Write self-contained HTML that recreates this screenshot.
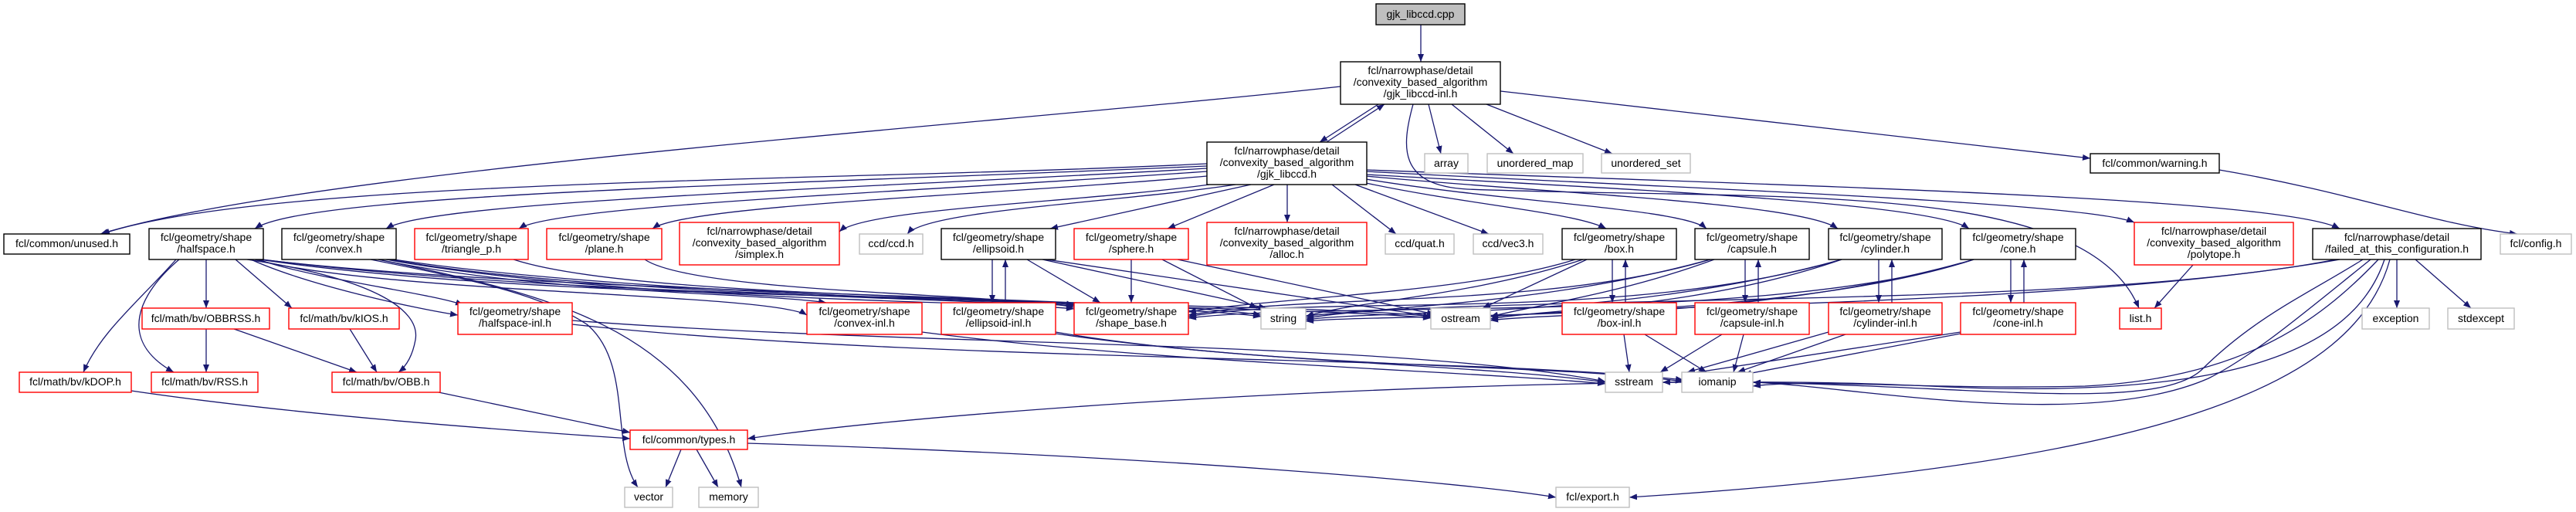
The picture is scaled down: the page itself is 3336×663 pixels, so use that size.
<!DOCTYPE html>
<html><head><meta charset="utf-8"><style>
html,body{margin:0;padding:0;background:#fff;}
svg{display:block;}
text{font-family:"Liberation Sans",sans-serif;font-size:14px;fill:#000;}
.e{fill:none;stroke:#191970;stroke-width:1.3;}
.b{fill:#fff;stroke:#000;stroke-width:1.4;}
.r{fill:#fff;stroke:#ff0000;stroke-width:1.4;}
.g{fill:#fff;stroke:#bfbfbf;stroke-width:1.4;}
</style></head><body>
<svg width="3336" height="663" viewBox="0 0 3336 663" xmlns="http://www.w3.org/2000/svg">
<defs><marker id="a" markerWidth="11" markerHeight="8" refX="10" refY="4" orient="auto" markerUnits="userSpaceOnUse"><path d="M0,0 L10,4 L0,8 z" fill="#191970"/></marker></defs>
<g class="e" marker-end="url(#a)">
<path d="M1840,32 L1840,80"/>
<path d="M1785,135 L1709,184"/>
<path d="M1718,184 L1793,135"/>
<path d="M1850,135 L1866,199"/>
<path d="M1880,135 L1960,199"/>
<path d="M1925,135 L2088,199"/>
<path d="M1943,118 L2707,205"/>
<path d="M1736,112 C1300,160 400,220 130,303"/>
<path d="M1830,135 C1815,190 1810,240 1900,245 C2300,260 2700,230 2770,399"/>
<path d="M1563,212 C1100,235 350,230 132,303"/>
<path d="M1563,215 C1000,240 400,250 330,296"/>
<path d="M1563,218 C1100,245 560,260 500,296"/>
<path d="M1563,222 C1200,248 720,265 672,296"/>
<path d="M1563,228 C1300,252 890,265 845,296"/>
<path d="M1566,239 C1400,262 1120,270 1087,300"/>
<path d="M1600,239 C1450,262 1200,272 1175,303"/>
<path d="M1620,239 L1360,296"/>
<path d="M1650,239 L1512,296"/>
<path d="M1667,239 L1667,288"/>
<path d="M1725,239 L1808,303"/>
<path d="M1755,239 L1928,303"/>
<path d="M1769,237 C1900,265 2040,275 2080,296"/>
<path d="M1769,232 C1950,262 2180,270 2210,296"/>
<path d="M1769,228 C2000,250 2330,262 2380,296"/>
<path d="M1769,226 C2100,245 2500,262 2550,296"/>
<path d="M1769,222 C2200,245 2700,262 2764,288"/>
<path d="M1769,220 C2300,240 2950,255 3030,296"/>
<path d="M228,336 C180,390 130,430 108,482"/>
<path d="M232,336 C180,380 150,440 225,482"/>
<path d="M267,336 L267,399"/>
<path d="M305,336 L378,399"/>
<path d="M320,336 C480,360 545,400 538,440 C534,462 525,475 516,482"/>
<path d="M325,336 C400,370 540,400 593,408"/>
<path d="M330,336 C500,380 1000,380 1045,408"/>
<path d="M336,336 C700,390 1300,380 1391,395"/>
<path d="M338,336 C700,380 1500,385 1633,408"/>
<path d="M340,336 C800,395 1700,390 1853,410"/>
<path d="M335,336 C400,360 560,380 600,395"/>
<path d="M267,426 L267,482"/>
<path d="M303,426 L462,482"/>
<path d="M453,426 L488,482"/>
<path d="M170,506 C400,540 700,560 816,568"/>
<path d="M568,508 L816,560"/>
<path d="M882,582 L862,631"/>
<path d="M902,582 L930,631"/>
<path d="M968,574 C1500,590 1900,625 2015,644"/>
<path d="M480,336 C600,360 700,380 760,420 C820,470 790,580 826,631"/>
<path d="M490,336 C700,380 900,420 960,631"/>
<path d="M490,336 C700,380 1000,380 1070,392"/>
<path d="M500,336 C800,390 1300,390 1391,400"/>
<path d="M505,336 C800,390 1500,390 1633,410"/>
<path d="M510,336 C900,395 1700,395 1853,412"/>
<path d="M665,336 C800,380 1200,380 1391,396"/>
<path d="M835,336 C900,380 1300,380 1391,398"/>
<path d="M1285,336 L1285,392"/>
<path d="M1302,392 L1302,336"/>
<path d="M1330,336 L1425,392"/>
<path d="M1350,336 L1640,399"/>
<path d="M1355,336 L1858,410"/>
<path d="M1465,336 L1465,392"/>
<path d="M1505,336 L1628,399"/>
<path d="M1525,336 L1858,407"/>
<path d="M2040,336 C1900,380 1650,385 1539,404"/>
<path d="M2050,336 C1900,385 1750,390 1691,410"/>
<path d="M2055,336 L1920,399"/>
<path d="M2088,336 L2088,392"/>
<path d="M2105,392 L2105,336"/>
<path d="M2215,336 C2000,400 1700,380 1539,408"/>
<path d="M2215,336 C2000,395 1800,395 1691,412"/>
<path d="M2220,336 C2100,380 1990,395 1930,410"/>
<path d="M2260,336 L2260,392"/>
<path d="M2277,392 L2277,336"/>
<path d="M2385,336 C2100,420 1700,380 1539,410"/>
<path d="M2385,336 C2100,415 1800,400 1691,414"/>
<path d="M2385,336 C2200,400 2000,400 1930,413"/>
<path d="M2433,336 L2433,392"/>
<path d="M2450,392 L2450,336"/>
<path d="M2556,336 C2300,420 1700,390 1539,412"/>
<path d="M2556,336 C2300,420 1800,405 1691,416"/>
<path d="M2556,336 C2300,410 2000,405 1930,415"/>
<path d="M2604,336 L2604,392"/>
<path d="M2621,392 L2621,336"/>
<path d="M741,415 C1200,450 1800,440 2079,494"/>
<path d="M741,420 C1200,470 1900,460 2180,492"/>
<path d="M1194,430 C1500,470 1900,480 2079,497"/>
<path d="M1367,430 C1600,470 1900,470 2079,495"/>
<path d="M1367,432 C1700,480 2000,470 2180,494"/>
<path d="M2103,433 L2110,482"/>
<path d="M2130,433 L2210,482"/>
<path d="M2230,433 L2150,482"/>
<path d="M2258,433 L2245,482"/>
<path d="M2368,430 L2185,482"/>
<path d="M2390,433 L2250,482"/>
<path d="M2539,430 L2185,484"/>
<path d="M2539,432 L2258,485"/>
<path d="M2840,343 L2790,399"/>
<path d="M3025,336 C2700,400 2000,380 1691,409"/>
<path d="M3030,336 C2700,395 2100,395 1930,410"/>
<path d="M3060,336 C2990,380 2920,410 2850,480 C2780,540 2500,490 2153,495"/>
<path d="M3070,336 C2990,400 2920,460 2860,490 C2700,560 2400,500 2270,495"/>
<path d="M3080,336 C3000,420 2900,490 2700,500 C2500,505 2350,490 2270,500"/>
<path d="M3088,336 C3050,450 2900,520 2500,500 C2100,480 1300,520 968,568"/>
<path d="M3095,336 C3050,500 2800,600 2110,644"/>
<path d="M3104,336 L3104,399"/>
<path d="M3128,336 L3200,399"/>
<path d="M2874,220 C3050,250 3150,290 3260,303"/>
</g>
<rect x="1782" y="5" width="115" height="27" fill="#bfbfbf" stroke="#000" stroke-width="1.4"/>
<text x="1839.5" y="23" text-anchor="middle">gjk_libccd.cpp</text>
<g text-anchor="middle">
<rect class="b" x="1736" y="80" width="207" height="55"/>
<text x="1839.5" y="96">fcl/narrowphase/detail</text><text x="1839.5" y="111">/convexity_based_algorithm</text><text x="1839.5" y="126">/gjk_libccd-inl.h</text>
<rect class="g" x="1845" y="199" width="56" height="25"/><text x="1873" y="216">array</text>
<rect class="g" x="1926" y="199" width="124" height="25"/><text x="1988" y="216">unordered_map</text>
<rect class="g" x="2074" y="199" width="115" height="25"/><text x="2131.5" y="216">unordered_set</text>
<rect class="b" x="2707" y="199" width="167" height="25"/><text x="2790.5" y="216">fcl/common/warning.h</text>
<rect class="b" x="1563" y="184" width="207" height="55"/>
<text x="1666.5" y="200">fcl/narrowphase/detail</text><text x="1666.5" y="215">/convexity_based_algorithm</text><text x="1666.5" y="230">/gjk_libccd.h</text>
<rect class="b" x="5" y="303" width="163" height="26"/><text x="86.5" y="320">fcl/common/unused.h</text>
<rect class="b" x="193" y="296" width="148" height="40"/><text x="267" y="312">fcl/geometry/shape</text><text x="267" y="327">/halfspace.h</text>
<rect class="b" x="365" y="296" width="148" height="40"/><text x="439" y="312">fcl/geometry/shape</text><text x="439" y="327">/convex.h</text>
<rect class="r" x="537" y="296" width="147" height="40"/><text x="610.5" y="312">fcl/geometry/shape</text><text x="610.5" y="327">/triangle_p.h</text>
<rect class="r" x="708" y="296" width="149" height="40"/><text x="782.5" y="312">fcl/geometry/shape</text><text x="782.5" y="327">/plane.h</text>
<rect class="r" x="880" y="288" width="207" height="55"/><text x="983.5" y="304">fcl/narrowphase/detail</text><text x="983.5" y="319">/convexity_based_algorithm</text><text x="983.5" y="334">/simplex.h</text>
<rect class="g" x="1113" y="303" width="82" height="26"/><text x="1154" y="320">ccd/ccd.h</text>
<rect class="b" x="1219" y="296" width="148" height="40"/><text x="1293" y="312">fcl/geometry/shape</text><text x="1293" y="327">/ellipsoid.h</text>
<rect class="r" x="1391" y="296" width="148" height="40"/><text x="1465" y="312">fcl/geometry/shape</text><text x="1465" y="327">/sphere.h</text>
<rect class="r" x="1563" y="288" width="207" height="55"/><text x="1666.5" y="304">fcl/narrowphase/detail</text><text x="1666.5" y="319">/convexity_based_algorithm</text><text x="1666.5" y="334">/alloc.h</text>
<rect class="g" x="1794" y="303" width="89" height="26"/><text x="1838.5" y="320">ccd/quat.h</text>
<rect class="g" x="1908" y="303" width="90" height="26"/><text x="1953" y="320">ccd/vec3.h</text>
<rect class="b" x="2023" y="296" width="148" height="40"/><text x="2097" y="312">fcl/geometry/shape</text><text x="2097" y="327">/box.h</text>
<rect class="b" x="2195" y="296" width="148" height="40"/><text x="2269" y="312">fcl/geometry/shape</text><text x="2269" y="327">/capsule.h</text>
<rect class="b" x="2368" y="296" width="147" height="40"/><text x="2441.5" y="312">fcl/geometry/shape</text><text x="2441.5" y="327">/cylinder.h</text>
<rect class="b" x="2539" y="296" width="149" height="40"/><text x="2613.5" y="312">fcl/geometry/shape</text><text x="2613.5" y="327">/cone.h</text>
<rect class="r" x="2764" y="288" width="206" height="55"/><text x="2867" y="304">fcl/narrowphase/detail</text><text x="2867" y="319">/convexity_based_algorithm</text><text x="2867" y="334">/polytope.h</text>
<rect class="b" x="2995" y="296" width="218" height="40"/><text x="3104" y="312">fcl/narrowphase/detail</text><text x="3104" y="327">/failed_at_this_configuration.h</text>
<rect class="g" x="3238" y="303" width="92" height="26"/><text x="3284" y="320">fcl/config.h</text>
<rect class="r" x="184" y="399" width="165" height="27"/><text x="266.5" y="417">fcl/math/bv/OBBRSS.h</text>
<rect class="r" x="374" y="399" width="143" height="27"/><text x="445.5" y="417">fcl/math/bv/kIOS.h</text>
<rect class="r" x="593" y="392" width="148" height="41"/><text x="667" y="408">fcl/geometry/shape</text><text x="667" y="423">/halfspace-inl.h</text>
<rect class="r" x="1045" y="392" width="149" height="41"/><text x="1119.5" y="408">fcl/geometry/shape</text><text x="1119.5" y="423">/convex-inl.h</text>
<rect class="r" x="1219" y="392" width="148" height="41"/><text x="1293" y="408">fcl/geometry/shape</text><text x="1293" y="423">/ellipsoid-inl.h</text>
<rect class="r" x="1391" y="392" width="148" height="41"/><text x="1465" y="408">fcl/geometry/shape</text><text x="1465" y="423">/shape_base.h</text>
<rect class="g" x="1633" y="399" width="58" height="27"/><text x="1662" y="417">string</text>
<rect class="g" x="1853" y="399" width="77" height="27"/><text x="1891.5" y="417">ostream</text>
<rect class="r" x="2023" y="392" width="148" height="41"/><text x="2097" y="408">fcl/geometry/shape</text><text x="2097" y="423">/box-inl.h</text>
<rect class="r" x="2195" y="392" width="148" height="41"/><text x="2269" y="408">fcl/geometry/shape</text><text x="2269" y="423">/capsule-inl.h</text>
<rect class="r" x="2368" y="392" width="147" height="41"/><text x="2441.5" y="408">fcl/geometry/shape</text><text x="2441.5" y="423">/cylinder-inl.h</text>
<rect class="r" x="2539" y="392" width="149" height="41"/><text x="2613.5" y="408">fcl/geometry/shape</text><text x="2613.5" y="423">/cone-inl.h</text>
<rect class="r" x="2745" y="399" width="54" height="27"/><text x="2772" y="417">list.h</text>
<rect class="g" x="3059" y="399" width="87" height="27"/><text x="3102.5" y="417">exception</text>
<rect class="g" x="3170" y="399" width="86" height="27"/><text x="3213" y="417">stdexcept</text>
<rect class="r" x="25" y="482" width="145" height="26"/><text x="97.5" y="499">fcl/math/bv/kDOP.h</text>
<rect class="r" x="196" y="482" width="138" height="26"/><text x="265" y="499">fcl/math/bv/RSS.h</text>
<rect class="r" x="430" y="482" width="140" height="26"/><text x="500" y="499">fcl/math/bv/OBB.h</text>
<rect class="g" x="2079" y="482" width="74" height="26"/><text x="2116" y="499">sstream</text>
<rect class="g" x="2178" y="482" width="92" height="26"/><text x="2224" y="499">iomanip</text>
<rect class="r" x="816" y="557" width="152" height="25"/><text x="892" y="574">fcl/common/types.h</text>
<rect class="g" x="809" y="631" width="62" height="26"/><text x="840" y="648">vector</text>
<rect class="g" x="905" y="631" width="77" height="26"/><text x="943.5" y="648">memory</text>
<rect class="g" x="2015" y="631" width="95" height="26"/><text x="2062.5" y="648">fcl/export.h</text>
</g>
</svg>
</body></html>
